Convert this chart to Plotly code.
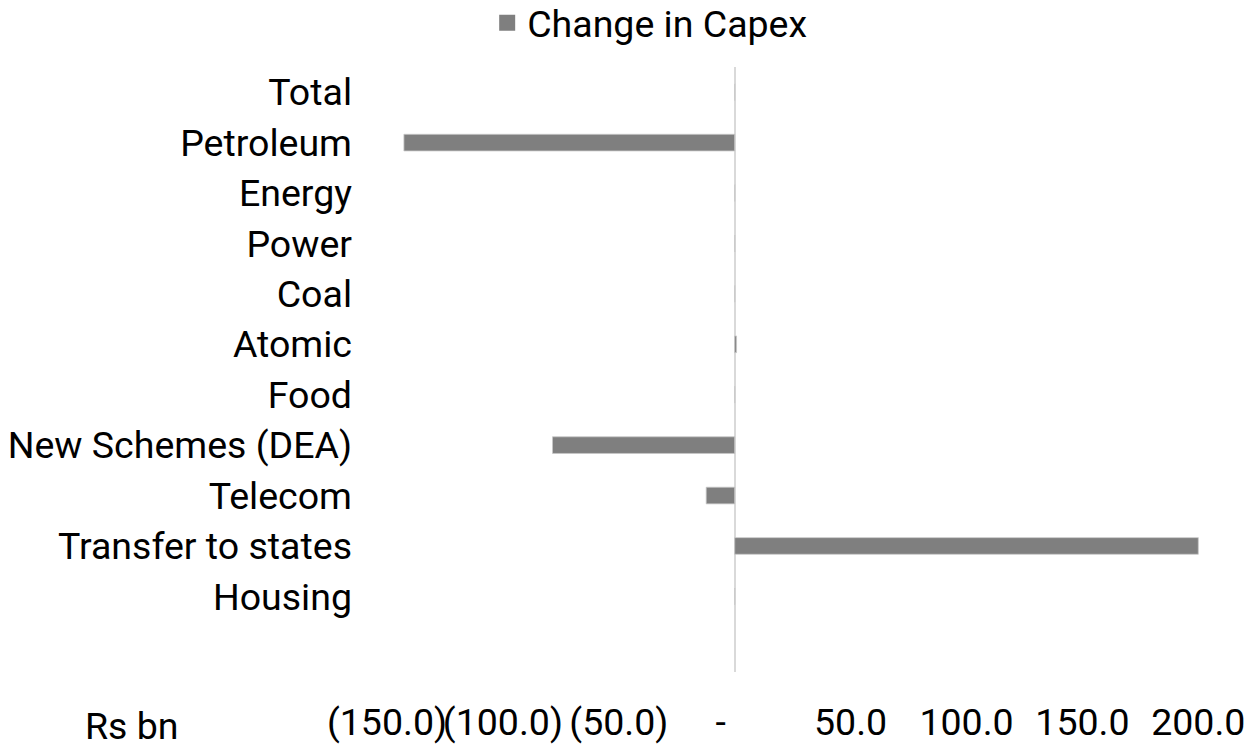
import plotly.graph_objects as go

categories = ["Total", "Petroleum", "Energy", "Power", "Coal", "Atomic", "Food",
              "New Schemes (DEA)", "Telecom", "Transfer to states", "Housing"]
change_in_capex = [0.0, -142.7, 0.0, 0.0, 0.0, 0.8, 0.0, -78.6, -12.3, 200.0, 0.0]

tick_values = [-150, -100, -50, 0, 50, 100, 150, 200]
tick_labels = ["(150.0)", "(100.0)", "(50.0)", "-\u00a0\u00a0\u00a0", "50.0", "100.0", "150.0", "200.0"]

BAR = "#7f7f7f"
FONT = "Roboto"
FS = 37.5

fig = go.Figure()
fig.add_trace(go.Bar(
    y=categories, x=change_in_capex, orientation="h",
    marker=dict(color=BAR, line=dict(color="#c8c8c8", width=0.8)),
    name="Change in Capex", showlegend=False,
))
# legend entry with a larger square swatch
fig.add_trace(go.Scatter(
    x=[None], y=[None], mode="markers", name="Change in Capex",
    marker=dict(symbol="square", size=18, color=BAR),
))

fig.update_layout(
    width=1248, height=747,
    margin=dict(l=387, r=49, t=67, b=75, autoexpand=False),
    paper_bgcolor="white", plot_bgcolor="white",
    font=dict(family=FONT, size=FS, color="#000000"),
    bargap=0.67,
    showlegend=True,
    legend=dict(orientation="h", x=0.3235, xanchor="center", y=1.073, yanchor="middle",
                font=dict(size=FS), bgcolor="rgba(0,0,0,0)", itemwidth=30,
                tracegroupgap=0),
    xaxis=dict(range=[-150, 200.3], tickvals=tick_values, ticktext=tick_labels,
               tickangle=0, automargin=False,
               showgrid=False, zeroline=True, zerolinecolor="#d9d9d9", zerolinewidth=2,
               showline=False, ticks="", ticklabelstandoff=24,
               tickfont=dict(size=FS, family=FONT)),
    yaxis=dict(type="category", categoryorder="array", categoryarray=categories,
               range=[11.5, -0.5], showgrid=False, zeroline=False, showline=False,
               automargin=False,
               ticks="", ticklabelstandoff=34, tickfont=dict(size=FS, family=FONT)),
    annotations=[dict(text="Rs bn", xref="paper", yref="paper",
                      x=(132 - 387) / 812, y=(672 - 726) / 605,
                      xanchor="center", yanchor="middle", showarrow=False,
                      font=dict(size=FS, family=FONT))],
)

fig.write_html("out.html", config={"displayModeBar": False},
               post_script="document.body.style.margin='0';document.body.style.overflow='hidden';")
